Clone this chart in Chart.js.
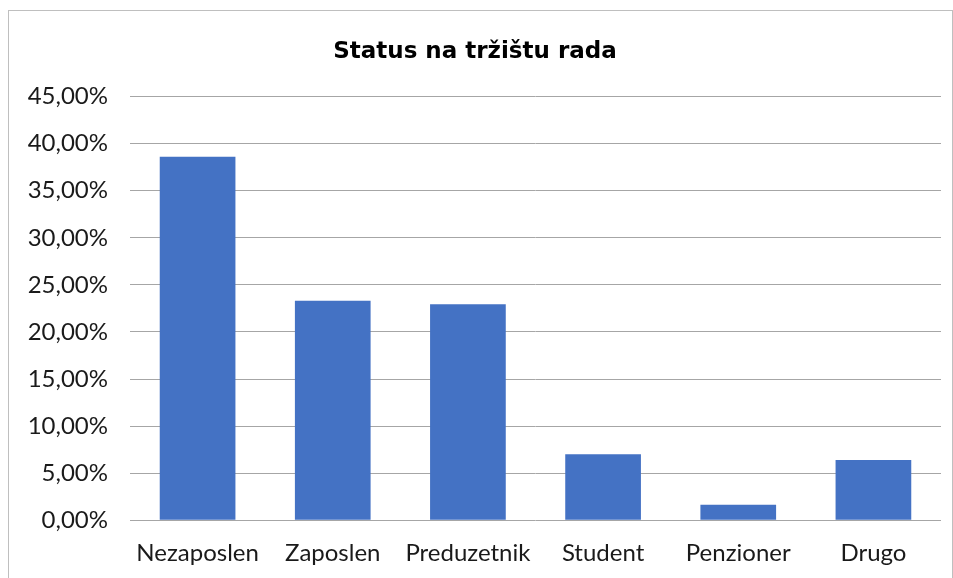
<!DOCTYPE html>
<html>
<head>
<meta charset="utf-8">
<script src="https://cdn.jsdelivr.net/npm/chart.js@4"></script>
<style>
  html, body { margin: 0; padding: 0; background: #fff; overflow: hidden; }
  #box {
    position: absolute; left: 8px; top: 10px;
    width: 943px; height: 600px;
    border: 1px solid #bfbfbf;
    background: #fff;
  }
  #wrap { position: absolute; left: 0; top: 0; width: 943px; height: 586px; }
</style>
</head>
<body>
<div id="box"><div id="wrap"><canvas id="statusChart"></canvas></div></div>
<script>
// kategorije i vrijednosti (u %)
const categories = ['Nezaposlen', 'Zaposlen', 'Preduzetnik', 'Student', 'Penzioner', 'Drugo'];
const shares = [38.6, 23.3, 22.95, 7.0, 1.65, 6.4];
const yTicks = [0, 5, 10, 15, 20, 25, 30, 35, 40, 45];

const canvas = document.getElementById('statusChart');
const statusChart = new Chart(canvas, {
    type: 'bar',
    data: {
        labels: categories,
        datasets: [{
            label: 'Status',
            data: shares,
            backgroundColor: '#4472c4',
            borderWidth: 0,
            barPercentage: 0.56,
            categoryPercentage: 1
        }]
    },
    options: {
        responsive: true,
        maintainAspectRatio: false,
        animation: false,
        layout: { padding: { top: 0, right: 11, bottom: 10, left: 0 } },
        plugins: {
            legend: { display: false },
            tooltip: { enabled: false },
            title: {
                display: true,
                text: 'Status na tržištu rada',
                color: '#000',
                font: { family: 'DejaVu Sans', size: 23, weight: 'bold' },
                padding: { top: 27, bottom: 31 }
            }
        },
        scales: {
            x: {
                grid: { display: false, drawTicks: false },
                border: { display: false },
                ticks: {
                    color: '#1a1a1a',
                    font: { family: 'Lato', size: 24 },
                    padding: 19,
                    maxRotation: 0
                }
            },
            y: {
                min: 0,
                max: 45,
                afterBuildTicks: scale => {
                    scale.ticks = yTicks.map(v => ({ value: v }));
                },
                afterFit: scale => { scale.width = 121; },
                grid: { color: '#a6a6a6', lineWidth: 1, drawTicks: false },
                border: { display: false },
                ticks: {
                    color: '#1a1a1a',
                    font: { family: 'Lato', size: 24 },
                    padding: 22,
                    callback: v => v.toFixed(2).replace('.', ',') + '%'
                }
            }
        }
    }
});
</script>
</body>
</html>
